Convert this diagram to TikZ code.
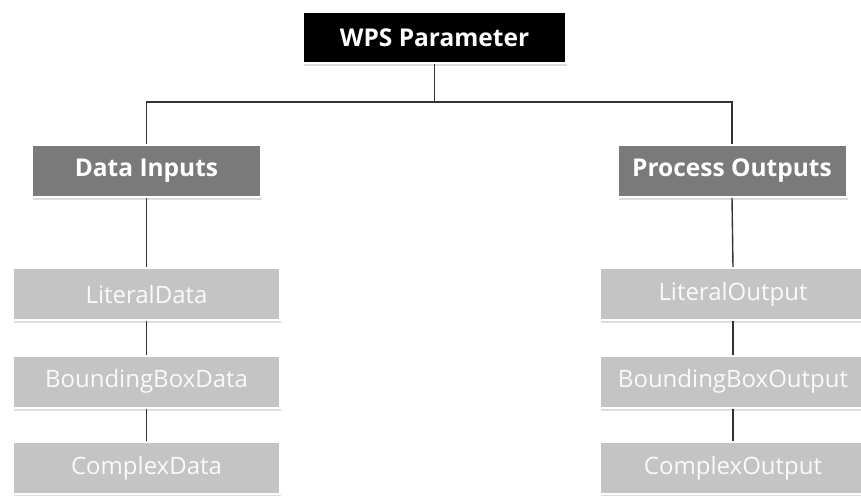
\documentclass[tikz,border=0pt]{standalone}
\usepackage{fontspec}
\setmainfont{Open Sans}
\usetikzlibrary{shadows}
\definecolor{darkbox}{HTML}{7A7A7A}
\definecolor{lightbox}{HTML}{C4C4C4}
\definecolor{linec}{HTML}{333333}
\begin{document}
\begin{tikzpicture}[x=1pt,y=-1pt,
  basebox/.style={draw=white,line width=2pt,inner sep=0pt,
    drop shadow={shadow xshift=1pt,shadow yshift=-3pt,fill=black!22,opacity=0.6}},
  topbox/.style={basebox,fill=black,text=white,minimum width=263pt,minimum height=51pt,font=\fontsize{24.5}{28}\selectfont\bfseries},
  midbox/.style={basebox,fill=darkbox,text=white,minimum width=229pt,minimum height=52pt,font=\fontsize{24.5}{28}\selectfont\bfseries},
  leafbox/.style={basebox,fill=lightbox,text=white!96!gray,minimum width=267pt,minimum height=52pt,font=\fontsize{24}{28}\selectfont},
  conn/.style={draw=linec,line width=1.4pt}]
\useasboundingbox (0,0) rectangle (861,495);
\begin{scope}
\clip (0,0) rectangle (861,495);
\node[topbox] (top) at (434.5,37.5) {WPS Parameter};
\coordinate (bus) at (434.5,102);
\node[midbox] (di) at (146.5,171) {Data Inputs};
\node[midbox] (po) at (732,171) {Process Outputs};
\node[leafbox] (ld) at (146.5,294) {LiteralData};
\node[leafbox] (bd) at (146.5,381.5) {BoundingBoxData};
\node[leafbox] (cd) at (146.5,468) {ComplexData};
\node[leafbox] (lo) at (733,294) {LiteralOutput};
\node[leafbox] (bo) at (733,381.5) {BoundingBoxOutput};
\node[leafbox] (co) at (733,468) {ComplexOutput};
\draw[conn] (top.south) -- (bus);
\draw[conn] (di.north) |- (bus) -| (po.north);
\draw[conn] (di.south) -- (ld.north);
\draw[conn] (ld.south) -- (bd.north);
\draw[conn] (bd.south) -- (cd.north);
\draw[conn] (po.south) -- (lo.north);
\draw[conn] (lo.south) -- (bo.north);
\draw[conn] (bo.south) -- (co.north);
\end{scope}
\end{tikzpicture}
\end{document}
